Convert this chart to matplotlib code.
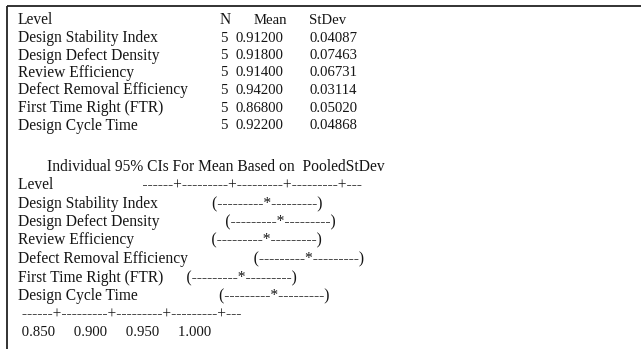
import matplotlib.pyplot as plt

# One-way ANOVA summary (Minitab style text output)
levels = ['Design Stability Index', 'Design Defect Density', 'Review Efficiency',
          'Defect Removal Efficiency', 'First Time Right (FTR)', 'Design Cycle Time']
n_obs = [5, 5, 5, 5, 5, 5]
means = [0.912, 0.918, 0.914, 0.942, 0.868, 0.922]
stdevs = [0.04087, 0.07463, 0.06731, 0.03114, 0.05020, 0.04868]
axis_ticks = [0.850, 0.900, 0.950, 1.000]

FONT = 'Liberation Serif'
FS = 11.2
FS_NUM = 10.6
COLOR = '#151515'

fig = plt.figure(figsize=(6.41, 3.49), dpi=100)
ax = fig.add_axes([0, 0, 1, 1])
ax.set_xlim(0, 641)
ax.set_ylim(349, 0)
ax.axis('off')

# frame (top and left edges only visible)
ax.plot([7, 641], [6, 6], color='#222222', lw=1.3, solid_capstyle='butt')
ax.plot([7, 7], [6, 349], color='#222222', lw=1.3, solid_capstyle='butt')


def txt(x, y, s, fs=FS):
    ax.text(x, y, s, fontsize=fs, family=FONT, color=COLOR, ha='left', va='center')


# summary table
row_h = 17.5
y0 = 20.5
txt(18, y0, 'Level')
txt(220, y0, 'N')
txt(254, y0, 'Mean', FS_NUM)
txt(309, y0, 'StDev', FS_NUM)
for i, lab in enumerate(levels):
    y = y0 + row_h * (i + 1)
    txt(18, y, lab)
    txt(220, y, str(n_obs[i]), FS_NUM)
    txt(235, y, '%.5f' % means[i], FS_NUM)
    txt(309, y, '%.5f' % stdevs[i], FS_NUM)

# character-based confidence interval plot
axis_str = '------+---------+---------+---------+---'
lo = axis_ticks[0]
step = (axis_ticks[1] - axis_ticks[0]) / 10  # value per character
pad = 28

txt(47, 167, 'Individual 95% CIs For Mean Based on  PooledStDev')
row2 = 18.5
y1 = 185
txt(18, y1, 'Level' + ' ' * 23 + axis_str)
for i, lab in enumerate(levels):
    star = 6 + int(round((means[i] - lo) / step))
    line = lab + ' ' * (pad - len(lab) + star - 10) + '(---------*---------)'
    txt(18, y1 + row2 * (i + 1), line)

txt(18, y1 + row2 * 7, ' ' + axis_str)
txt(18, y1 + row2 * 8, ' ' + '     '.join('%.3f' % t for t in axis_ticks), FS_NUM)

fig.savefig('out.png', dpi=100)
